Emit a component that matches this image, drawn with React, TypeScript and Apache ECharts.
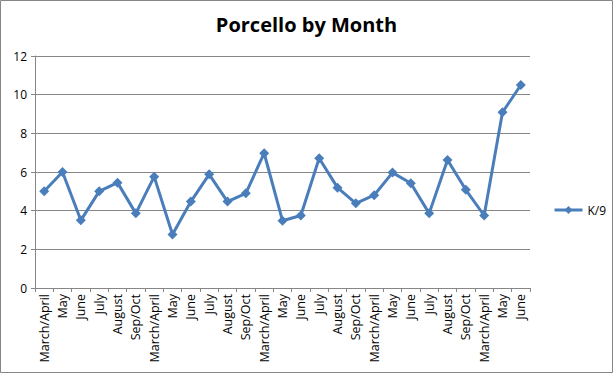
import React, { useEffect, useRef } from "react";
import * as echarts from "echarts";

const categories = [
  "March/April", "May", "June", "July", "August", "Sep/Oct",
  "March/April", "May", "June", "July", "August", "Sep/Oct",
  "March/April", "May", "June", "July", "August", "Sep/Oct",
  "March/April", "May", "June", "July", "August", "Sep/Oct",
  "March/April", "May", "June",
];
const k9Values = [
  5.0, 6.0, 3.5, 5.0, 5.45, 3.86, 5.76, 2.77, 4.47, 5.88, 4.47, 4.9,
  6.97, 3.48, 3.75, 6.71, 5.19, 4.38, 4.8, 5.97, 5.42, 3.86, 6.62, 5.08,
  3.75, 9.09, 10.5,
];
const seriesName = "K/9";
const titleText = "Porcello by Month";

export default function App() {
  const ref = useRef<HTMLDivElement>(null);
  useEffect(() => {
    if (!ref.current) return;
    const chart = echarts.init(ref.current, null, { renderer: "svg" });
    const font = "'Open Sans', 'Noto Sans', sans-serif";
    chart.setOption({
      animation: false,
      backgroundColor: "#ffffff",
      title: {
        text: titleText,
        left: "center",
        top: 9,
        textStyle: { fontSize: 20, fontWeight: "bold", color: "#000", fontFamily: font },
      },
      legend: {
        data: [seriesName],
        orient: "vertical",
        left: 548,
        top: 199,
        itemWidth: 28,
        itemHeight: 10,
        itemGap: 4,
        lineStyle: { width: 3 },
        textStyle: { fontSize: 12, color: "#000", fontFamily: font },
      },
      grid: { left: 35, right: 83, top: 56, bottom: 85, containLabel: false },
      xAxis: {
        type: "category",
        data: categories,
        boundaryGap: true,
        axisLine: { lineStyle: { color: "#868686", width: 1 } },
        axisTick: { show: true, length: 4, alignWithLabel: false, lineStyle: { color: "#868686" } },
        axisLabel: {
          rotate: 90,
          interval: 0,
          fontSize: 12.5,
          color: "#000",
          fontFamily: font,
          margin: 6,
        },
      },
      yAxis: {
        type: "value",
        min: 0,
        max: 12,
        interval: 2,
        axisLine: { show: true, lineStyle: { color: "#868686", width: 1 } },
        axisTick: { show: true, length: 4, lineStyle: { color: "#868686" } },
        axisLabel: { fontSize: 12, color: "#000", fontFamily: font, margin: 8 },
        splitLine: { show: true, lineStyle: { color: "#868686", width: 1 } },
      },
      series: [
        {
          name: seriesName,
          type: "line",
          data: k9Values,
          symbol: "diamond",
          symbolSize: 10,
          itemStyle: { color: "#4A7EBB" },
          lineStyle: { color: "#4A7EBB", width: 3 },
        },
      ],
      graphic: [
        {
          type: "rect",
          shape: { x: 0.5, y: 0.5, width: 612, height: 372 },
          style: { fill: "none", stroke: "#868686", lineWidth: 1 },
          silent: true,
        },
      ],
    });
    return () => chart.dispose();
  }, []);
  return (
    <div
      ref={ref}
      style={{ position: "absolute", left: 0, top: 0, width: 613, height: 373 }}
    />
  );
}
